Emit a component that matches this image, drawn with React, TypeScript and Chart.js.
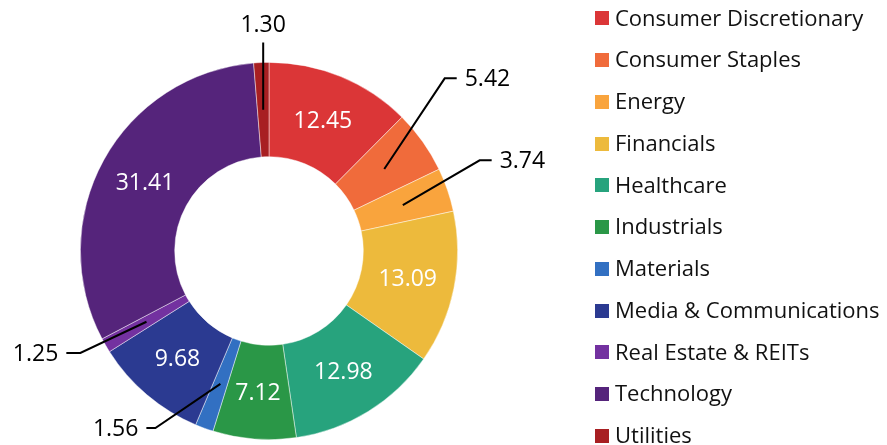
import React, { useEffect, useRef } from "react";
import { Chart, registerables } from "chart.js";

Chart.register(...registerables);

const categories = [
  "Consumer Discretionary",
  "Consumer Staples",
  "Energy",
  "Financials",
  "Healthcare",
  "Industrials",
  "Materials",
  "Media & Communications",
  "Real Estate & REITs",
  "Technology",
  "Utilities",
];
const weights = [12.45, 5.42, 3.74, 13.09, 12.98, 7.12, 1.56, 9.68, 1.25, 31.41, 1.3];
const colors = [
  "#DB3637",
  "#F06B3B",
  "#F9A43D",
  "#EDBA3C",
  "#27A37D",
  "#2A9747",
  "#3270C2",
  "#2B3A91",
  "#7331A0",
  "#55247B",
  "#A81F22",
];
// leader-line layout for small slices: elbow angle (deg clockwise from top), elbow radius factor, tail length (signed)
const outsideLabels: Record<number, { ang: number; rf: number; tail: number; pos: "side" | "top" }> = {
  1: { ang: 45.5, rf: 1.306, tail: 12, pos: "side" },
  2: { ang: 66.7, rf: 1.216, tail: 12, pos: "side" },
  6: { ang: 212.7, rf: 1.115, tail: -9, pos: "side" },
  8: { ang: 241.6, rf: 1.137, tail: -14, pos: "side" },
  10: { ang: 358.4, rf: 1.106, tail: 0, pos: "top" },
};

const FONT = "'Open Sans', 'Noto Sans', sans-serif";

const labelPlugin = {
  id: "sliceLabels",
  afterDatasetsDraw(chart: any) {
    const ctx = chart.ctx;
    const meta = chart.getDatasetMeta(0);
    const data = chart.data.datasets[0].data as number[];
    ctx.save();
    ctx.font = `23px ${FONT}`;
    meta.data.forEach((arc: any, i: number) => {
      const { x, y, startAngle, endAngle, innerRadius, outerRadius } = arc.getProps(
        ["x", "y", "startAngle", "endAngle", "innerRadius", "outerRadius"],
        true
      );
      const mid = (startAngle + endAngle) / 2;
      const rm = (innerRadius + outerRadius) / 2;
      const px = x + Math.cos(mid) * rm;
      const py = y + Math.sin(mid) * rm;
      const text = data[i].toFixed(2);
      const o = outsideLabels[i];
      if (!o) {
        ctx.fillStyle = "#ffffff";
        ctx.textAlign = "center";
        ctx.textBaseline = "middle";
        ctx.fillText(text, px, py + 1);
        return;
      }
      const a = (o.ang * Math.PI) / 180;
      const ex = x + Math.sin(a) * outerRadius * o.rf;
      const ey = y - Math.cos(a) * outerRadius * o.rf;
      ctx.strokeStyle = "#000000";
      ctx.lineWidth = 2;
      ctx.beginPath();
      ctx.moveTo(px, py);
      ctx.lineTo(ex, ey);
      ctx.lineTo(ex + o.tail, ey);
      ctx.stroke();
      ctx.fillStyle = "#000000";
      if (o.pos === "top") {
        ctx.textAlign = "center";
        ctx.textBaseline = "bottom";
        ctx.fillText(text, ex, ey - 6);
      } else {
        ctx.textBaseline = "middle";
        if (o.tail >= 0) {
          ctx.textAlign = "left";
          ctx.fillText(text, ex + o.tail + 8, ey + 1);
        } else {
          ctx.textAlign = "right";
          ctx.fillText(text, ex + o.tail - 8, ey + 1);
        }
      }
    });
    ctx.restore();
  },
};

const legendPlugin = {
  id: "sideLegend",
  afterDraw(chart: any) {
    const ctx = chart.ctx;
    ctx.save();
    ctx.font = `22px ${FONT}`;
    ctx.textAlign = "left";
    ctx.textBaseline = "middle";
    categories.forEach((c, i) => {
      const cy = 18.3 + i * 41.77;
      ctx.fillStyle = colors[i];
      ctx.fillRect(595, Math.round(cy - 7), 14, 14);
      ctx.fillStyle = "#111111";
      ctx.fillText(c, 615, cy + 1);
    });
    ctx.restore();
  },
};

export default function App() {
  const ref = useRef<HTMLCanvasElement>(null);
  useEffect(() => {
    if (!ref.current) return;
    const chart = new Chart(ref.current, {
      type: "doughnut",
      data: {
        labels: categories,
        datasets: [
          {
            data: weights,
            backgroundColor: colors,
            borderColor: "rgba(255,255,255,0.6)",
            borderWidth: 0.75,
          },
        ],
      },
      options: {
        animation: false,
        responsive: false,
        maintainAspectRatio: false,
        cutout: "50%",
        layout: { padding: { left: 80, top: 62, right: 429, bottom: 5 } },
        plugins: {
          legend: { display: false },
          tooltip: { enabled: false },
        },
      },
      plugins: [labelPlugin, legendPlugin],
    });
    return () => chart.destroy();
  }, []);
  return (
    <div style={{ position: "fixed", left: 0, top: 0, width: 887, height: 445, background: "#fff" }}>
      <canvas ref={ref} width={887} height={445} style={{ width: 887, height: 445 }} />
    </div>
  );
}
